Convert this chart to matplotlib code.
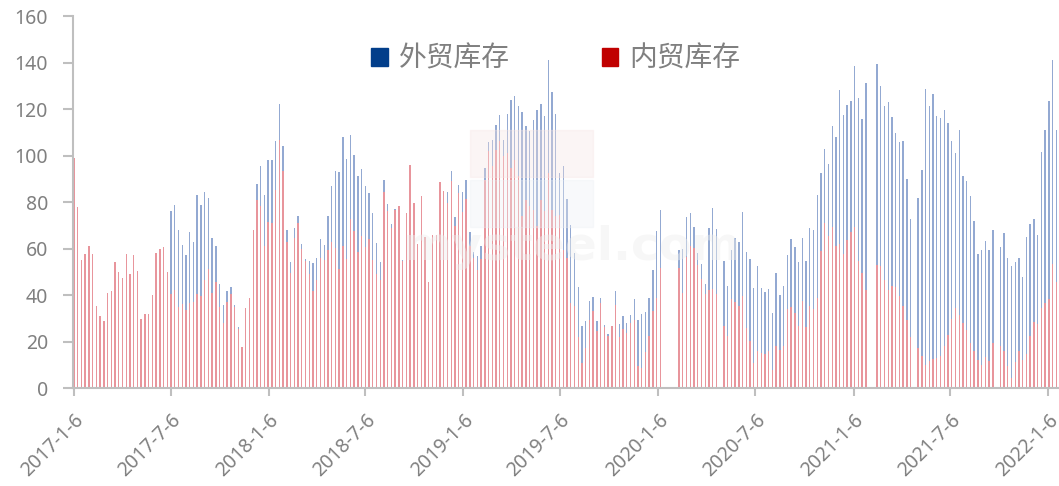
import numpy as np
import matplotlib
matplotlib.use('Agg')
import matplotlib.pyplot as plt
import matplotlib.dates as mdates
from matplotlib.patches import Patch, Rectangle
import datetime as dt

plt.rcParams['font.family'] = ['Noto Sans CJK SC', 'DejaVu Sans']

# weekly data, starting 2017-1-6, None = no report that week
start_date = dt.date(2017, 1, 6)

# 内贸库存 (red)
neimao = [99, 78, 55, 57.6, 61, 57.6, 35.3, 31, 28.7, 41,
          41.7, 54.3, 49.9, 47.4, 57.6, 49, 57.1, 50.4, 29.7, 31.9,
          32, 39.9, 57.9, 59.9, 60.6, 49.9, 40.4, 42.1, 35, 36.1,
          33.6, 36.7, 37, 40.4, 39.6, 46.4, 51, 40.7, 45.7, 35,
          27.9, 37, 40.4, 34.7, 25.3, 17.7, 34.3, 38.7, 67.9, 81,
          78.1, 61.2, 71.3, 71, 85.3, 106.8, 93.2, 62.7, 49.5, 64.5,
          71, 59.8, 54.5, 49.2, 41.7, 46.3, 55.9, 54.9, 59.2, 62.7,
          60.2, 51.2, 61.2, 55.5, 72.7, 67.5, 58.4, 65.5, 60.6, 64.1,
          55.2, 49.2, 46.3, 84.2, 76, 69, 76.4, 78.1, 54.5, 75.3,
          95.9, 79.6, 62.1, 82.4, 64.8, 45.6, 66, 66, 88.5, 84.8,
          79.5, 88.9, 69.8, 83.9, 75.6, 81.3, 60.9, 55.9, 50.9, 55.5,
          89.6, 102.1, 95.3, 102.5, 106.1, 99.6, 101, 94.6, 98.2, 91,
          73.8, 81, 78.1, 76.7, 69.5, 81, 76.1, 92.5, 76.7, 73.8,
          74.6, 59.5, 55.9, 36.6, 35.4, 21.9, 10.8, 17.2, 29.4, 33,
          24.4, 36.6, 26.2, 22.2, 26.5, 35.8, 21.9, 25.4, 23.7, 27.9,
          29.4, 9.3, 8.6, 15.3, 22.2, 33, 38.7, 51.5, None, None,
          None, None, 51.5, 40.9, 56.3, 60.9, 60.2, 53, 46.9, 40.6,
          42.3, 42.6, 40.6, None, 26.8, 22.5, 38.3, 36.8, 35.4, 39.7,
          25.8, 20.4, 10.8, 15.8, 15.1, 14.8, 15.8, 7.6, 17.9, 16.5,
          17.9, 34, 34.8, 32.3, 26.5, 37.3, 26.2, 35.1, 34, 38.7,
          58.8, 70.8, 65.5, 69.2, 60.9, 61.9, 57.8, 63.8, 67, 69.2,
          54.5, 49.5, 42.3, None, None, 53, 52.6, 46.3, 42, 43.7,
          43.4, 39.7, 35.4, 29.1, 21.9, None, 17.2, 13.6, 10, 11.5,
          12.6, 12.9, 13.9, 17.9, 22.9, 29.7, 34.4, 31.5, 28, 25.1,
          19.4, 15.8, 12.2, 10, 13.3, 11.5, 19.4, None, 18.2, 15.8,
          9.6, 4.3, 11, 15.8, 12.2, 14.8, 22.2, 28.2, 27.7, 34.4,
          36.6, 38.3, 53.5, 45.4]

# 外贸库存 (blue), drawn behind the red bars
waimao = [99, 78, 55, 57.6, 61, 57.6, 35.3, 31, 28.7, 41,
          41.7, 54.3, 49.9, 47.4, 57.6, 49, 57.1, 50.4, 29.7, 31.9,
          32, 39.9, 57.9, 59.9, 60.6, 49.9, 76.3, 78.7, 68.1, 61.7,
          57.1, 67, 62.6, 82.9, 78.7, 84.4, 81.9, 64.7, 61, 44.6,
          35.6, 41.6, 43.3, 35.9, 26.4, 17.7, 34.3, 38.7, 67.9, 87.8,
          95.6, 83.2, 98.2, 97.9, 106.1, 122.3, 104.2, 68.1, 54.3, 68.7,
          73.8, 62.1, 55.6, 54.6, 53.9, 56.1, 64.1, 61.6, 73.8, 87,
          93.2, 92.9, 107.8, 98.6, 109, 100.1, 91, 94.3, 86.9, 84,
          75.3, 62.4, 54.3, 89.6, 79.3, 70.7, 77.1, 78.1, 55.2, 75.3,
          95.9, 79.6, 62.1, 82.4, 64.8, 45.6, 66, 66, 88.5, 84.8,
          84.3, 93.3, 73.5, 87.3, 84.3, 89.6, 67.1, 58.4, 56.9, 60.9,
          94.8, 105.8, 106.5, 113.1, 117.6, 106.5, 118, 124, 125.7, 121.1,
          118.9, 112.5, 110.4, 115.4, 119.7, 122.3, 117.1, 140.9, 127.5, 118,
          92.5, 95.6, 81.3, 70.3, 58.1, 43.4, 26.8, 28.7, 37.3, 39.1,
          28.7, 38.7, 27.1, 23.2, 26.8, 41.7, 27.5, 30.8, 28, 31.5,
          38.2, 29.1, 32, 32.5, 38.9, 50.9, 67.5, 76.4, None, None,
          None, None, 59.2, 59.8, 73.5, 75.3, 69.1, 58.1, 53.3, 44.9,
          68.8, 77.3, 68.4, None, 54.5, 44, 59.5, 64.5, 62.9, 75.6,
          58.6, 55.5, 43, 52.3, 43, 41.4, 42.6, 32.3, 49.5, 40,
          44, 57.3, 63.9, 60.5, 54, 64.4, 54.5, 68.8, 67.8, 83.2,
          92.5, 102.8, 96.5, 112.8, 108, 128, 117.6, 121.9, 123.3, 138.6,
          124.7, 115.8, 131.2, None, None, 139.5, 129.7, 121.1, 122.9, 116.6,
          109.7, 105.7, 106.1, 89.9, 72.8, None, 81.7, 93.9, 128.7, 121.4,
          126.5, 117.1, 116.1, 119.7, 114, 106.1, 101.1, 110.8, 91, 89.2,
          82.4, 71.7, 57.8, 59.2, 63.1, 59.2, 68.1, None, 60.5, 66.7,
          55.9, 52.6, 54.3, 55.9, 47.7, 64.9, 70.7, 72.8, 65.8, 101.4,
          110.8, 123.3, 140.9, 110.8]

tick_dates = [dt.date(2017, 1, 6), dt.date(2017, 7, 6), dt.date(2018, 1, 6),
              dt.date(2018, 7, 6), dt.date(2019, 1, 6), dt.date(2019, 7, 6),
              dt.date(2020, 1, 6), dt.date(2020, 7, 6), dt.date(2021, 1, 6),
              dt.date(2021, 7, 6), dt.date(2022, 1, 6)]
tick_labels = ['2017-1-6', '2017-7-6', '2018-1-6', '2018-7-6', '2019-1-6',
               '2019-7-6', '2020-1-6', '2020-7-6', '2021-1-6', '2021-7-6',
               '2022-1-6']

names = ['外贸库存', '内贸库存']

GRAY = '#808080'
AXIS = '#bfbfbf'


def week_dates(n):
    return [start_date + dt.timedelta(days=7 * i) for i in range(n)]


def keep(vals):
    d = week_dates(len(vals))
    x = [mdates.date2num(d[i]) for i in range(len(vals)) if vals[i] is not None]
    y = [v for v in vals if v is not None]
    return x, y


fig = plt.figure(figsize=(10.59, 4.86), dpi=100)
ax = fig.add_axes([0.0690, 0.2016, 0.9305, 0.7654])

bx, by = keep(waimao)
rx, ry = keep(neimao)
ax.bar(bx, by, width=2.6, color='#93a9d2', linewidth=0, zorder=1)
ax.bar(rx, ry, width=2.6, color='#e8959c', linewidth=0, zorder=2)

# faint watermark, on top of the bars
fig.patches.append(Rectangle((0.444, 0.635), 0.116, 0.098, transform=fig.transFigure,
                             color='#f6e4e5', alpha=0.35, zorder=5))
fig.patches.append(Rectangle((0.444, 0.532), 0.116, 0.098, transform=fig.transFigure,
                             color='#eceef4', alpha=0.35, zorder=5))
fig.text(0.54, 0.49, 'mysteel.com', ha='center', va='center', fontsize=34,
         color='#eeeeee', alpha=0.45, fontweight='bold', zorder=5, family='DejaVu Sans')

ax.set_ylim(0, 160)
ax.set_yticks(np.arange(0, 161, 20))
ax.set_xlim(mdates.date2num(start_date) - 1.6, mdates.date2num(dt.date(2022, 1, 25)))
ax.set_xticks([mdates.date2num(d) for d in tick_dates])
ax.set_xticklabels(tick_labels, rotation=45, ha='right', rotation_mode='anchor')

ax.tick_params(axis='y', colors=AXIS, labelcolor=GRAY, labelsize=14, length=7, width=1.5, pad=11)
ax.tick_params(axis='x', colors=AXIS, labelcolor=GRAY, labelsize=14, length=6, width=1.5, pad=10)
for lab in ax.get_xticklabels() + ax.get_yticklabels():
    lab.set_family(['Noto Sans', 'DejaVu Sans'])

ax.spines['top'].set_visible(False)
ax.spines['right'].set_visible(False)
ax.spines['left'].set_color(AXIS)
ax.spines['bottom'].set_color(AXIS)
ax.spines['left'].set_linewidth(1.5)
ax.spines['bottom'].set_linewidth(1.5)
ax.patch.set_alpha(0)

handles = [Patch(color='#023e8a'), Patch(color='#c00000')]
leg = ax.legend(handles, names, loc='center', bbox_to_anchor=(0.49, 0.885), ncol=2,
                frameon=False, fontsize=20, labelcolor=GRAY, handlelength=0.6,
                handleheight=0.6, handletextpad=0.4, columnspacing=3.3)

fig.savefig('out.png', dpi=100)
